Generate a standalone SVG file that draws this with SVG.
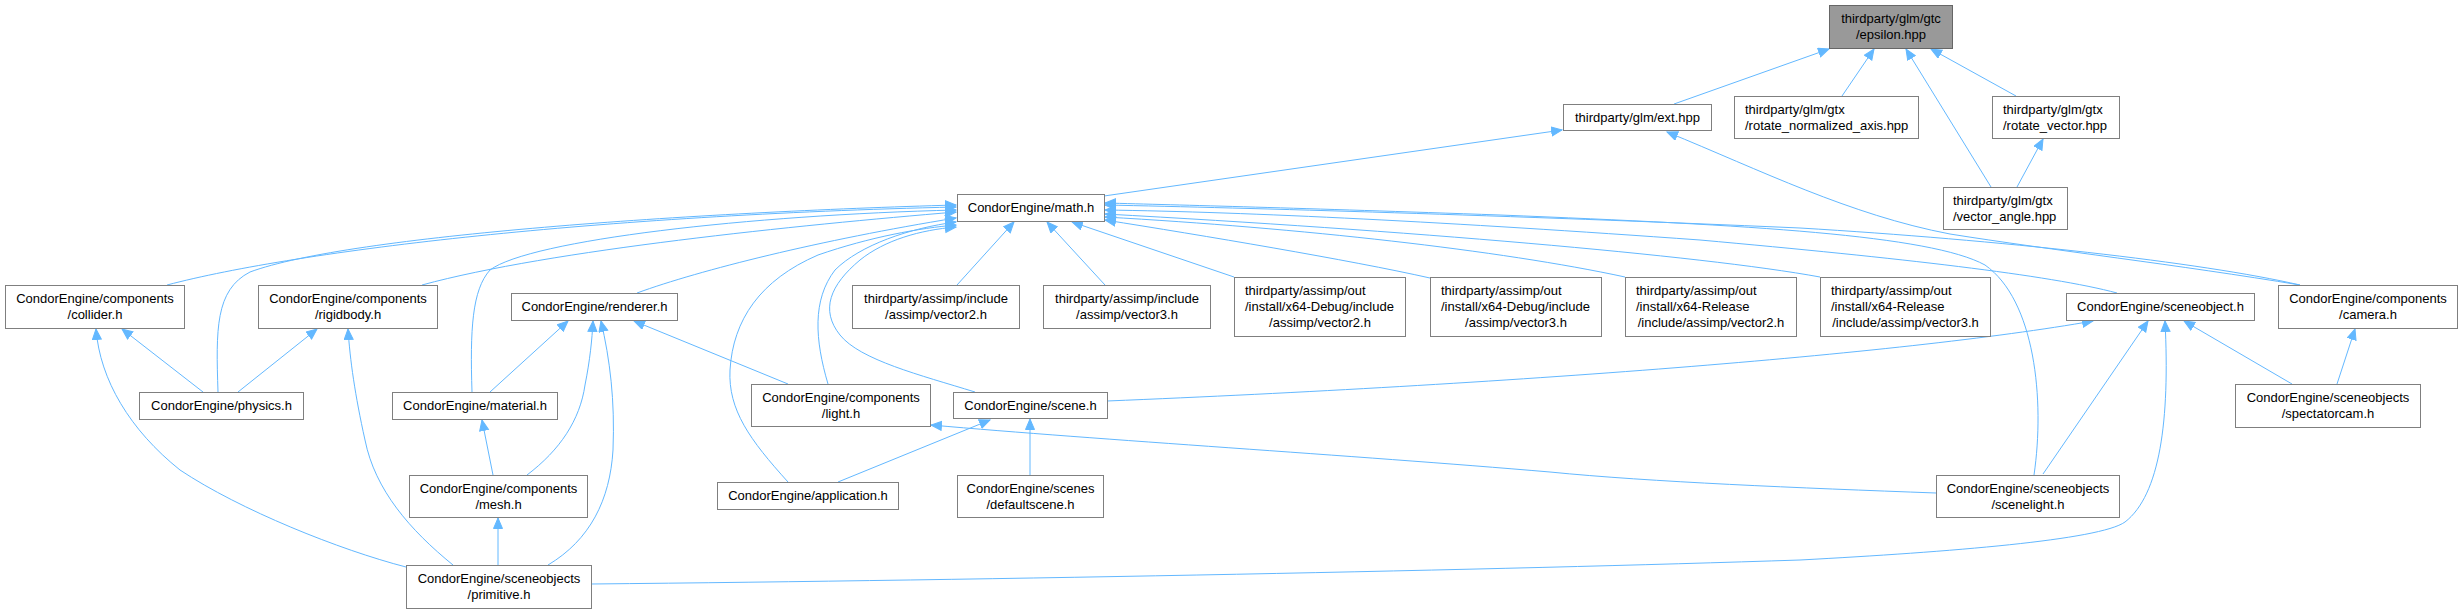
<svg xmlns="http://www.w3.org/2000/svg" width="2462" height="613" viewBox="0 0 2462 613">
<style>
.n rect{fill:#fff;stroke:#7f7f7f;stroke-width:1}
.root rect{fill:#999;stroke:#666}
text{font-family:"Liberation Sans",Arial,sans-serif;font-size:13px;fill:#000}
.c{text-anchor:middle}
#edges path{fill:none;stroke:#63b8ff;stroke-width:1;marker-end:url(#a)}
</style>
<defs>
<marker id="a" markerUnits="userSpaceOnUse" markerWidth="13" markerHeight="11" refX="11" refY="5" orient="auto">
<path d="M0.5,0.5 L11,5 L0.5,9.5 z" fill="#63b8ff" stroke="#63b8ff"/>
</marker>
</defs>
<rect width="2462" height="613" fill="#fff"/>
<g id="edges">
<path d="M1674,104 L1829,49"/>
<path d="M1842,96 L1874,49"/>
<path d="M1991,187 L1906,49"/>
<path d="M2016,96 L1931,49"/>
<path d="M2017,187 L2043,139"/>
<path d="M1104,196 L1562,130"/>
<path d="M2300,285 C2180,265 2050,250 1950,234 C1850,215 1760,170 1667,132"/>
<path d="M2300,285 C2200,262 2000,240 1800,228 C1500,215 1250,208 1105,205"/>
<path d="M2034,475 C2045,400 2035,300 1985,265 C1930,235 1750,225 1500,215 C1300,208 1180,205 1105,203"/>
<path d="M2117,293 C2050,275 1900,258 1700,240 C1450,222 1250,212 1105,210"/>
<path d="M1820,277 C1700,255 1400,230 1105,214"/>
<path d="M1625,277 C1500,250 1300,228 1105,217"/>
<path d="M1430,278 C1350,260 1200,235 1105,220"/>
<path d="M1234,277 L1072,222"/>
<path d="M957,285 L1014,222"/>
<path d="M1105,285 L1047,222"/>
<path d="M167,285 C300,250 600,215 956,207"/>
<path d="M422,285 C550,250 800,225 956,212"/>
<path d="M218,392 C216,330 215,290 250,272 C350,235 700,212 956,205"/>
<path d="M637,293 C700,270 820,240 956,218"/>
<path d="M472,392 C470,330 472,290 490,270 C530,240 750,215 956,210"/>
<path d="M828,384 C815,340 812,300 835,270 C860,245 910,228 956,222"/>
<path d="M788,482 C750,440 728,410 730,370 C733,320 760,280 818,255 C870,237 920,228 956,225"/>
<path d="M975,392 C920,375 860,360 840,335 C820,310 830,285 860,260 C885,240 920,230 956,227"/>
<path d="M490,392 L568,321"/>
<path d="M527,475 C560,450 580,420 585,385 C590,360 592,340 593,321"/>
<path d="M548,565 C590,540 610,500 613,450 C615,400 610,360 601,321"/>
<path d="M788,384 L634,321"/>
<path d="M203,392 L122,329"/>
<path d="M406,567 C340,550 240,510 180,470 C130,430 100,380 96,329"/>
<path d="M238,392 L317,329"/>
<path d="M453,565 C410,530 375,490 365,440 C355,395 350,360 348,329"/>
<path d="M493,475 L482,420"/>
<path d="M498,565 L498,518"/>
<path d="M1936,493 C1800,488 1650,482 1550,472 C1350,455 1100,440 931,425"/>
<path d="M838,482 L990,420"/>
<path d="M1030,475 L1030,419"/>
<path d="M1107,401 C1500,385 1900,355 2093,321"/>
<path d="M2043,474 L2148,321"/>
<path d="M591,584 C1000,580 1500,570 1800,560 C1950,552 2100,540 2125,522 C2160,495 2170,420 2165,321"/>
<path d="M2292,384 L2184,321"/>
<path d="M2337,384 L2355,329"/>
</g>
<g id="n_epsilon" class="n root"><rect x="1829.5" y="5.5" width="123" height="43"/><text class="c" x="1891" y="23">thirdparty/glm/gtc</text><text class="c" x="1891" y="39">/epsilon.hpp</text></g>
<g id="n_ext" class="n"><rect x="1563.5" y="104.5" width="148" height="26"/><text class="c" x="1637.5" y="122">thirdparty/glm/ext.hpp</text></g>
<g id="n_rotnorm" class="n"><rect x="1734.5" y="96.5" width="184" height="42"/><text x="1745" y="114">thirdparty/glm/gtx</text><text x="1745" y="130">/rotate_normalized_axis.hpp</text></g>
<g id="n_rotvec" class="n"><rect x="1992.5" y="96.5" width="127" height="42"/><text x="2003" y="114">thirdparty/glm/gtx</text><text x="2003" y="130">/rotate_vector.hpp</text></g>
<g id="n_vecangle" class="n"><rect x="1943.5" y="187.5" width="124" height="42"/><text x="1953" y="205">thirdparty/glm/gtx</text><text x="1953" y="221">/vector_angle.hpp</text></g>
<g id="n_math" class="n"><rect x="957.5" y="194.5" width="147" height="27"/><text class="c" x="1031" y="212">CondorEngine/math.h</text></g>
<g id="n_collider" class="n"><rect x="5.5" y="285.5" width="179" height="43"/><text class="c" x="95" y="303">CondorEngine/components</text><text class="c" x="95" y="319">/collider.h</text></g>
<g id="n_rigidbody" class="n"><rect x="258.5" y="285.5" width="179" height="43"/><text class="c" x="348" y="303">CondorEngine/components</text><text class="c" x="348" y="319">/rigidbody.h</text></g>
<g id="n_renderer" class="n"><rect x="511.5" y="293.5" width="166" height="27"/><text class="c" x="594.5" y="311">CondorEngine/renderer.h</text></g>
<g id="n_av2" class="n"><rect x="852.5" y="285.5" width="167" height="43"/><text class="c" x="936" y="303">thirdparty/assimp/include</text><text class="c" x="936" y="319">/assimp/vector2.h</text></g>
<g id="n_av3" class="n"><rect x="1043.5" y="285.5" width="167" height="43"/><text class="c" x="1127" y="303">thirdparty/assimp/include</text><text class="c" x="1127" y="319">/assimp/vector3.h</text></g>
<g id="n_dv2" class="n"><rect x="1234.5" y="277.5" width="171" height="59"/><text x="1245" y="295">thirdparty/assimp/out</text><text x="1245" y="311">/install/x64-Debug/include</text><text class="c" x="1320" y="327">/assimp/vector2.h</text></g>
<g id="n_dv3" class="n"><rect x="1430.5" y="277.5" width="171" height="59"/><text x="1441" y="295">thirdparty/assimp/out</text><text x="1441" y="311">/install/x64-Debug/include</text><text class="c" x="1516" y="327">/assimp/vector3.h</text></g>
<g id="n_rv2" class="n"><rect x="1625.5" y="277.5" width="171" height="59"/><text x="1636" y="295">thirdparty/assimp/out</text><text x="1636" y="311">/install/x64-Release</text><text class="c" x="1711" y="327">/include/assimp/vector2.h</text></g>
<g id="n_rv3" class="n"><rect x="1820.5" y="277.5" width="170" height="59"/><text x="1831" y="295">thirdparty/assimp/out</text><text x="1831" y="311">/install/x64-Release</text><text class="c" x="1905.5" y="327">/include/assimp/vector3.h</text></g>
<g id="n_sceneobject" class="n"><rect x="2066.5" y="293.5" width="188" height="27"/><text class="c" x="2160.5" y="311">CondorEngine/sceneobject.h</text></g>
<g id="n_camera" class="n"><rect x="2278.5" y="285.5" width="179" height="43"/><text class="c" x="2368" y="303">CondorEngine/components</text><text class="c" x="2368" y="319">/camera.h</text></g>
<g id="n_physics" class="n"><rect x="139.5" y="392.5" width="164" height="27"/><text class="c" x="221.5" y="410">CondorEngine/physics.h</text></g>
<g id="n_material" class="n"><rect x="392.5" y="392.5" width="165" height="27"/><text class="c" x="475" y="410">CondorEngine/material.h</text></g>
<g id="n_light" class="n"><rect x="751.5" y="384.5" width="179" height="42"/><text class="c" x="841" y="402">CondorEngine/components</text><text class="c" x="841" y="418">/light.h</text></g>
<g id="n_scene" class="n"><rect x="953.5" y="392.5" width="154" height="26"/><text class="c" x="1030.5" y="410">CondorEngine/scene.h</text></g>
<g id="n_spectatorcam" class="n"><rect x="2235.5" y="384.5" width="185" height="43"/><text class="c" x="2328" y="402">CondorEngine/sceneobjects</text><text class="c" x="2328" y="418">/spectatorcam.h</text></g>
<g id="n_mesh" class="n"><rect x="409.5" y="475.5" width="178" height="42"/><text class="c" x="498.5" y="493">CondorEngine/components</text><text class="c" x="498.5" y="509">/mesh.h</text></g>
<g id="n_application" class="n"><rect x="717.5" y="482.5" width="181" height="27"/><text class="c" x="808" y="500">CondorEngine/application.h</text></g>
<g id="n_defaultscene" class="n"><rect x="957.5" y="475.5" width="146" height="42"/><text class="c" x="1030.5" y="493">CondorEngine/scenes</text><text class="c" x="1030.5" y="509">/defaultscene.h</text></g>
<g id="n_scenelight" class="n"><rect x="1936.5" y="475.5" width="183" height="42"/><text class="c" x="2028" y="493">CondorEngine/sceneobjects</text><text class="c" x="2028" y="509">/scenelight.h</text></g>
<g id="n_primitive" class="n"><rect x="406.5" y="565.5" width="185" height="43"/><text class="c" x="499" y="583">CondorEngine/sceneobjects</text><text class="c" x="499" y="599">/primitive.h</text></g>
</svg>
